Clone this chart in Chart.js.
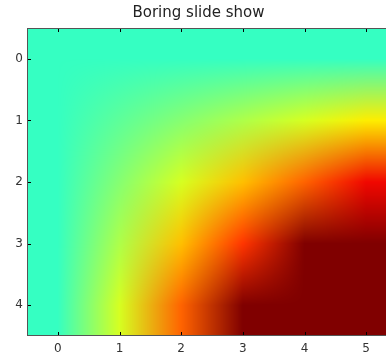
<!DOCTYPE html>
<html>
<head>
<meta charset="utf-8">
<script src="https://cdn.jsdelivr.net/npm/chart.js@4/dist/chart.umd.min.js"></script>
<style>
  html, body { margin: 0; padding: 0; background: #fff; overflow: hidden; }
  #wrap { position: relative; width: 400px; height: 358px; }
</style>
</head>
<body>
<div id="wrap"><canvas id="chart"></canvas></div>
<script>
// Grid values (rows top to bottom, columns left to right)
const colLabels = [0, 1, 2, 3, 4, 5];
const rowLabels = [0, 1, 2, 3, 4];
const row0 = [0, 0, 0, 0, 0, 0];
const row1 = [0, 1, 2, 3, 4, 5];
const row2 = [0, 2, 4, 6, 8, 10];
const row3 = [0, 3, 6, 9, 12, 15];
const row4 = [0, 4, 8, 12, 16, 20];
const grid = [row0, row1, row2, row3, row4];
const colorMin = -8.5;
const colorMax = 12;

// matplotlib "jet" segment data
const jet = {
  r: [[0, 0], [0.35, 0], [0.66, 1], [0.89, 1], [1, 0.5]],
  g: [[0, 0], [0.125, 0], [0.375, 1], [0.64, 1], [0.91, 0], [1, 0]],
  b: [[0, 0.5], [0.11, 1], [0.34, 1], [0.65, 0], [1, 0]]
};

function segment(points, t) {
  for (let k = 1; k < points.length; k++) {
    if (t <= points[k][0]) {
      const [x0, y0] = points[k - 1];
      const [x1, y1] = points[k];
      return y0 + (y1 - y0) * (t - x0) / (x1 - x0);
    }
  }
  return points[points.length - 1][1];
}

function jetColor(value) {
  let t = (value - colorMin) / (colorMax - colorMin);
  t = Math.max(0, Math.min(1, t));
  return [segment(jet.r, t), segment(jet.g, t), segment(jet.b, t)].map((c) => c * 255);
}

// colour each cell first, then blend the colours (like the old imshow resampling)
const cellColors = grid.map((row) => row.map((v) => jetColor(v)));

function sampleColor(x, y) {
  const rows = cellColors.length;
  const cols = cellColors[0].length;
  const cx = Math.max(0, Math.min(cols - 1, x));
  const cy = Math.max(0, Math.min(rows - 1, y));
  const j0 = Math.min(cols - 2, Math.floor(cx));
  const i0 = Math.min(rows - 2, Math.floor(cy));
  const fx = cx - j0;
  const fy = cy - i0;
  const out = [0, 0, 0];
  for (let c = 0; c < 3; c++) {
    const top = cellColors[i0][j0][c] * (1 - fx) + cellColors[i0][j0 + 1][c] * fx;
    const bottom = cellColors[i0 + 1][j0][c] * (1 - fx) + cellColors[i0 + 1][j0 + 1][c] * fx;
    out[c] = Math.round(top * (1 - fy) + bottom * fy);
  }
  return out;
}

const cellPoints = [];
grid.forEach((row, i) => {
  row.forEach((v, j) => cellPoints.push({ x: colLabels[j], y: rowLabels[i], v }));
});

const heatmapPlugin = {
  id: "heatmap",
  beforeDatasetsDraw(chart) {
    const { ctx, chartArea: area, scales } = chart;
    const left = Math.round(area.left);
    const top = Math.round(area.top);
    const w = Math.round(area.right) - left;
    const h = Math.round(area.bottom) - top;
    const img = ctx.createImageData(w, h);
    for (let py = 0; py < h; py++) {
      const dy = scales.y.getValueForPixel(top + py + 0.5);
      for (let px = 0; px < w; px++) {
        const dx = scales.x.getValueForPixel(left + px + 0.5);
        const [r, g, b] = sampleColor(dx, dy);
        const k = (py * w + px) * 4;
        img.data[k] = r;
        img.data[k + 1] = g;
        img.data[k + 2] = b;
        img.data[k + 3] = 255;
      }
    }
    ctx.putImageData(img, left, top);
  },
  afterDraw(chart) {
    const { ctx, chartArea: area, scales } = chart;
    const tickLen = 4;
    ctx.save();
    ctx.strokeStyle = "#000";
    ctx.lineWidth = 1;
    ctx.beginPath();
    colLabels.forEach((v) => {
      const px = Math.round(scales.x.getPixelForValue(v)) + 0.5;
      ctx.moveTo(px, area.bottom);
      ctx.lineTo(px, area.bottom - tickLen);
      ctx.moveTo(px, area.top);
      ctx.lineTo(px, area.top + tickLen);
    });
    rowLabels.forEach((v) => {
      const py = Math.round(scales.y.getPixelForValue(v)) + 0.5;
      ctx.moveTo(area.left, py);
      ctx.lineTo(area.left + tickLen, py);
      ctx.moveTo(area.right, py);
      ctx.lineTo(area.right - tickLen, py);
    });
    ctx.stroke();
    ctx.strokeStyle = "#555";
    ctx.strokeRect(Math.round(area.left) + 0.5, Math.round(area.top) + 0.5,
      Math.round(area.right - area.left) - 1, Math.round(area.bottom - area.top) - 1);
    ctx.restore();
  }
};

new Chart(document.getElementById("chart"), {
  type: "scatter",
  data: {
    datasets: [{ data: cellPoints, pointRadius: 0 }]
  },
  options: {
    responsive: true,
    maintainAspectRatio: false,
    animation: false,
    layout: { padding: { left: 0, right: 3, top: 0, bottom: 0 } },
    plugins: {
      legend: { display: false },
      tooltip: { enabled: false },
      title: {
        display: true,
        text: "Boring slide show",
        color: "#222",
        font: { family: "DejaVu Sans", size: 15, weight: "normal" },
        padding: { top: 4, bottom: 6 }
      }
    },
    scales: {
      x: {
        type: "linear",
        min: -0.5,
        max: 5.5,
        afterBuildTicks: (axis) => { axis.ticks = colLabels.map((v) => ({ value: v })); },
        afterFit: (axis) => { axis.height = 22; },
        grid: { display: false, drawTicks: false },
        border: { display: false },
        ticks: {
          color: "#333",
          padding: 6,
          maxRotation: 0,
          font: { family: "DejaVu Sans", size: 12 }
        }
      },
      y: {
        type: "linear",
        reverse: true,
        min: -0.5,
        max: 4.5,
        afterBuildTicks: (axis) => { axis.ticks = rowLabels.map((v) => ({ value: v })); },
        afterFit: (axis) => { axis.width = 27; },
        grid: { display: false, drawTicks: false },
        border: { display: false },
        ticks: {
          color: "#333",
          padding: 4,
          font: { family: "DejaVu Sans", size: 12 }
        }
      }
    }
  },
  plugins: [heatmapPlugin]
});
</script>
</body>
</html>
